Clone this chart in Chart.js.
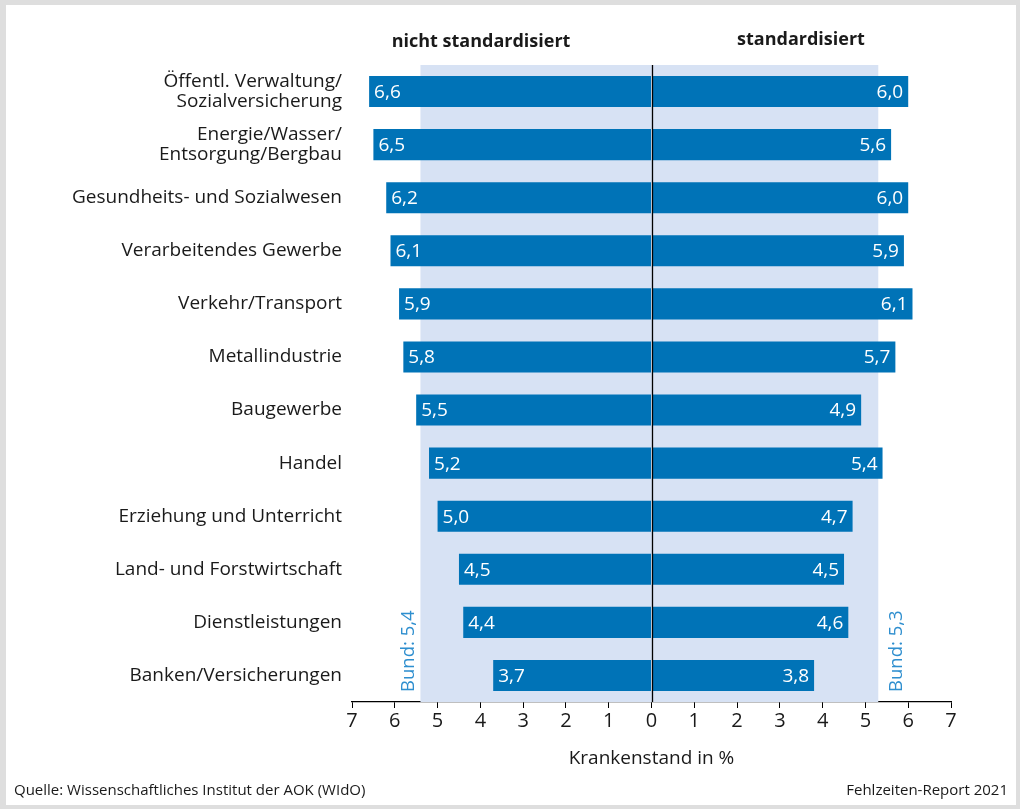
<!DOCTYPE html>
<html>
<head>
<meta charset="utf-8">
<script src="https://cdn.jsdelivr.net/npm/chart.js@4"></script>
<style>
html,body{margin:0;padding:0;background:#fff;}
#wrap{width:1020px;height:809px;position:relative;}
canvas{display:block;}
</style>
</head>
<body>
<div id="wrap"><canvas id="c" width="1020" height="809"></canvas></div>
<script>
const categories = [
  ["Öffentl. Verwaltung/", "Sozialversicherung"],
  ["Energie/Wasser/", "Entsorgung/Bergbau"],
  "Gesundheits- und Sozialwesen",
  "Verarbeitendes Gewerbe",
  "Verkehr/Transport",
  "Metallindustrie",
  "Baugewerbe",
  "Handel",
  "Erziehung und Unterricht",
  "Land- und Forstwirtschaft",
  "Dienstleistungen",
  "Banken/Versicherungen"
];
const nichtStandardisiert = [6.6, 6.5, 6.2, 6.1, 5.9, 5.8, 5.5, 5.2, 5.0, 4.5, 4.4, 3.7];
const standardisiert = [6.0, 5.6, 6.0, 5.9, 6.1, 5.7, 4.9, 5.4, 4.7, 4.5, 4.6, 3.8];
const bundLeft = 5.4;
const bundRight = 5.3;
const xTicks = [-7, -6, -5, -4, -3, -2, -1, 0, 1, 2, 3, 4, 5, 6, 7];
const sideTitles = ["nicht standardisiert", "standardisiert"];
const axisTitle = "Krankenstand in %";
const sourceText = "Quelle: Wissenschaftliches Institut der AOK (WIdO)";
const reportText = "Fehlzeiten-Report 2021";

const FONT = "'Open Sans', 'Noto Sans', sans-serif";
const BAR = "#0073b7";
const SHADE = "#d7e2f4";
const BUND = "#2f8fcf";
const fmt = v => v.toFixed(1).replace(".", ",");

const deco = {
  id: "deco",
  beforeDraw(chart) {
    const ctx = chart.ctx;
    ctx.save();
    ctx.fillStyle = "#ffffff";
    ctx.fillRect(0, 0, 1020, 809);
    ctx.fillStyle = "#dedede";
    ctx.fillRect(0, 0, 1020, 5);
    ctx.fillRect(0, 0, 6, 809);
    ctx.fillRect(1016, 0, 4, 809);
    ctx.fillRect(0, 805, 1020, 4);
    ctx.restore();
  },
  beforeDatasetsDraw(chart) {
    const {ctx, chartArea, scales} = chart;
    const x = scales.x;
    ctx.save();
    ctx.fillStyle = SHADE;
    const x0 = x.getPixelForValue(-bundLeft), x1 = x.getPixelForValue(bundRight);
    ctx.fillRect(x0, chartArea.top, x1 - x0, chartArea.bottom - chartArea.top);
    ctx.restore();
  },
  afterDatasetsDraw(chart) {
    const {ctx, chartArea, scales} = chart;
    const x = scales.x;
    ctx.save();
    const zx = Math.round(x.getPixelForValue(0)) + 0.5;
    ctx.strokeStyle = "#000";
    ctx.lineWidth = 1.3;
    ctx.beginPath();
    ctx.moveTo(zx, chartArea.top);
    ctx.lineTo(zx, chartArea.bottom);
    ctx.stroke();
    ctx.font = "19px " + FONT;
    ctx.fillStyle = "#ffffff";
    ctx.textBaseline = "middle";
    chart.getDatasetMeta(0).data.forEach((bar, i) => {
      ctx.textAlign = "left";
      ctx.fillText(fmt(nichtStandardisiert[i]), bar.x + 5, bar.y + 1);
    });
    chart.getDatasetMeta(1).data.forEach((bar, i) => {
      ctx.textAlign = "right";
      ctx.fillText(fmt(standardisiert[i]), bar.x - 5, bar.y + 1);
    });
    ctx.fillStyle = BUND;
    ctx.font = "18.5px " + FONT;
    ctx.textAlign = "left";
    const bottomY = chartArea.bottom - 10;
    [[x.getPixelForValue(-bundLeft) - 12, bundLeft], [x.getPixelForValue(bundRight) + 18, bundRight]].forEach(([px, v]) => {
      ctx.save();
      ctx.translate(px, bottomY);
      ctx.rotate(-Math.PI / 2);
      ctx.fillText("Bund: " + fmt(v), 0, 0);
      ctx.restore();
    });
    ctx.restore();
  },
  afterDraw(chart) {
    const ctx = chart.ctx;
    ctx.save();
    ctx.fillStyle = "#1a1a1a";
    ctx.font = "bold 18px " + FONT;
    ctx.textAlign = "center";
    ctx.textBaseline = "alphabetic";
    ctx.fillText(sideTitles[0], 481, 47);
    ctx.fillText(sideTitles[1], 801, 45);
    ctx.font = "19px " + FONT;
    ctx.fillText(axisTitle, chart.scales.x.getPixelForValue(0), 764);
    ctx.font = "15px " + FONT;
    ctx.textAlign = "left";
    ctx.fillText(sourceText, 14, 795);
    ctx.textAlign = "right";
    ctx.fillText(reportText, 1008, 795);
    ctx.restore();
  }
};

new Chart(document.getElementById("c"), {
  type: "bar",
  data: {
    labels: categories,
    datasets: [
      { label: sideTitles[0], data: nichtStandardisiert.map(v => -v), backgroundColor: BAR, borderWidth: 0 },
      { label: sideTitles[1], data: standardisiert, backgroundColor: BAR, borderWidth: 0 }
    ]
  },
  options: {
    indexAxis: "y",
    responsive: false,
    animation: false,
    events: [],
    layout: { padding: { top: 65, right: 69, bottom: 0, left: 0 } },
    datasets: { bar: { categoryPercentage: 1, barPercentage: 0.585 } },
    plugins: { legend: { display: false }, tooltip: { enabled: false }, title: { display: false } },
    scales: {
      x: {
        type: "linear",
        stacked: true,
        min: -7,
        max: 7,
        afterBuildTicks: s => { s.ticks = xTicks.map(v => ({ value: v })); },
        afterFit: s => { s.height = 107; },
        ticks: {
          callback: v => String(Math.abs(v)),
          font: { family: FONT, size: 20 },
          color: "#1a1a1a",
          padding: 1,
          maxRotation: 0,
          autoSkip: false
        },
        grid: { display: true, drawOnChartArea: false, drawTicks: true, tickLength: 6, color: "#000", lineWidth: 1 },
        border: { display: true, color: "#000", width: 1.3 }
      },
      y: {
        stacked: true,
        afterFit: s => { s.width = 352; },
        ticks: {
          font: { family: FONT, size: 19, lineHeight: 1.05 },
          color: "#1a1a1a",
          padding: 10
        },
        grid: { display: false, drawTicks: false },
        border: { display: false }
      }
    }
  },
  plugins: [deco]
});
</script>
</body>
</html>
